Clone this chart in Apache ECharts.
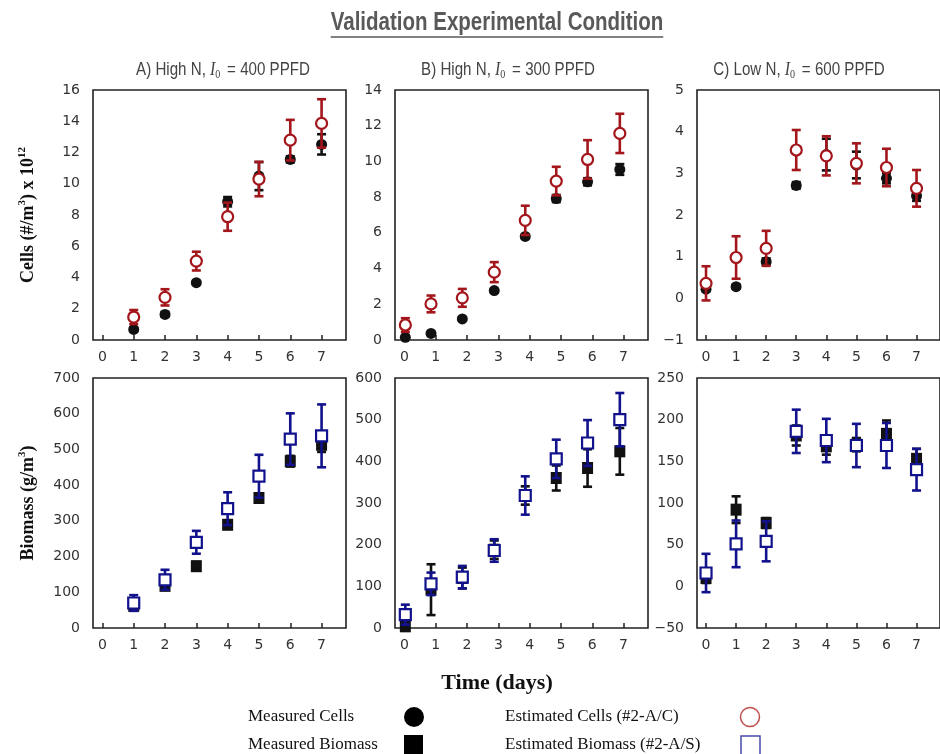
<!DOCTYPE html>
<html>
<head>
<meta charset="utf-8">
<title>Validation Experimental Condition</title>
<script src="https://cdn.jsdelivr.net/npm/echarts@6/dist/echarts.min.js"></script>
<style>
  html, body { margin: 0; padding: 0; background: #fff; }
  #chart { width: 940px; height: 754px; }
</style>
</head>
<body>
<div id="chart"></div>
<script>
// ---- Data -------------------------------------------------------------
const dayTicks = [0, 1, 2, 3, 4, 5, 6, 7];

// A) High N, I0 = 400 PPFD
const daysA = [1, 2, 3, 4, 5, 6, 7];
const cellsMeasA = [0.68, 1.64, 3.67, 8.85, 10.49, 11.56, 12.52];
const cellsMeasErrA = [0.1, 0.15, 0.1, 0.3, 0.9, 0.2, 0.65];
const cellsEstA = [1.47, 2.73, 5.05, 7.89, 10.3, 12.79, 13.86];
const cellsEstErrA = [0.45, 0.52, 0.6, 0.9, 1.1, 1.3, 1.55];
const bioMeasA = [62, 118, 173, 289, 364, 467, 513];
const bioMeasErrA = [8, 10, 12, 10, 12, 15, 20];
const bioEstA = [70, 135, 240, 334, 425, 529, 538];
const bioEstErrA = [22, 28, 32, 46, 60, 72, 88];

// B) High N, I0 = 300 PPFD
const daysB = [0.03, 0.85, 1.85, 2.87, 3.86, 4.85, 5.85, 6.88];
const cellsMeasB = [0.15, 0.37, 1.18, 2.77, 5.8, 7.92, 8.86, 9.55];
const cellsMeasErrB = [0.05, 0.05, 0.08, 0.1, 0.1, 0.2, 0.2, 0.3];
const cellsEstB = [0.84, 2.02, 2.36, 3.8, 6.7, 8.9, 10.11, 11.57];
const cellsEstErrB = [0.38, 0.47, 0.5, 0.56, 0.82, 0.8, 1.08, 1.1];
const bioMeasB = [4, 92, 120, 188, 318, 360, 384, 424];
const bioMeasErrB = [5, 61, 25, 22, 22, 30, 45, 56];
const bioEstB = [32, 106, 122, 186, 318, 406, 444, 500];
const bioEstErrB = [24, 27, 27, 27, 46, 46, 55, 64];

// C) Low N, I0 = 600 PPFD
const daysC = [0, 1, 2, 3, 4, 5, 6, 7];
const cellsMeasC = [0.22, 0.28, 0.88, 2.71, 3.45, 3.2, 2.88, 2.46];
const cellsMeasErrC = [0.05, 0.05, 0.08, 0.08, 0.38, 0.32, 0.12, 0.12];
const cellsEstC = [0.36, 0.98, 1.2, 3.56, 3.42, 3.24, 3.14, 2.64];
const cellsEstErrC = [0.41, 0.51, 0.42, 0.48, 0.47, 0.48, 0.45, 0.44];
const bioMeasC = [10, 92, 76, 181, 168, 170, 183, 153];
const bioMeasErrC = [6, 16, 6, 12, 10, 8, 16, 12];
const bioEstC = [16, 51, 54, 186, 175, 169, 169, 140];
const bioEstErrC = [23, 28, 24, 26, 26, 26, 27, 25];

// Axis ranges [min, max, interval] for the cells row and the biomass row
const cellsAxes = [[0, 16, 2], [0, 14, 2], [-1, 5, 1]];
const bioAxes = [[0, 700, 100], [0, 600, 100], [-50, 250, 50]];

const panelTitles = [
  ['A) High N, ', '400 PPFD'],
  ['B) High N, ', '300 PPFD'],
  ['C) Low N, ', '600 PPFD']
];
const legendLabels = ['Measured Cells', 'Measured Biomass', 'Estimated Cells (#2-A/C)', 'Estimated Biomass (#2-A/S)'];
const mainTitle = 'Validation Experimental Condition';
const xTitle = 'Time (days)';

// ---- Styling ----------------------------------------------------------
const RED = '#a3161b';
const BLUE = '#12128c';
const BLACK = '#111111';
const AXIS = '#222222';
const SANS = '"Liberation Sans", Arial, sans-serif';
const SERIF = '"Liberation Serif", "Times New Roman", serif';
const TICK_FONT = '"DejaVu Sans", sans-serif';

const colLeft = [93, 395, 697];
const rowTop = [90, 378];
const PW = 253, PH = 250;

const chart = echarts.init(document.getElementById('chart'), null, { renderer: 'canvas' });

const grids = [], xAxes = [], yAxes = [], series = [];

function zip(xs, ys) { return xs.map((x, i) => [x, ys[i]]); }
function zipErr(xs, ys, es) { return xs.map((x, i) => [x, ys[i] - es[i], ys[i] + es[i]]); }

function errorBars(color) {
  return function (params, api) {
    const x = api.value(0);
    const lo = api.coord([x, api.value(1)]);
    const hi = api.coord([x, api.value(2)]);
    const cap = 4.5;
    const style = { stroke: color, lineWidth: 2.6 };
    return {
      type: 'group',
      children: [
        { type: 'line', shape: { x1: lo[0], y1: lo[1], x2: hi[0], y2: hi[1] }, style },
        { type: 'line', shape: { x1: lo[0] - cap, y1: lo[1], x2: lo[0] + cap, y2: lo[1] }, style },
        { type: 'line', shape: { x1: hi[0] - cap, y1: hi[1], x2: hi[0] + cap, y2: hi[1] }, style }
      ]
    };
  };
}

function addPanel(idx, col, row, range, xs, meas, measErr, est, estErr, isCells, yName) {
  grids.push({
    left: colLeft[col], top: rowTop[row], width: PW, height: PH,
    show: true, borderColor: AXIS, borderWidth: 1.6, backgroundColor: 'transparent'
  });
  xAxes.push({
    gridIndex: idx, type: 'value', min: -0.3, max: 7.78,
    splitLine: { show: false },
    axisLine: { show: false, onZero: false },
    axisTick: { show: true, inside: true, length: 5, customValues: dayTicks, lineStyle: { color: AXIS, width: 1.5 } },
    axisLabel: { show: true, customValues: dayTicks, margin: 10, color: '#333', fontSize: 14, fontFamily: TICK_FONT }
  });
  const y = {
    gridIndex: idx, type: 'value', min: range[0], max: range[1], interval: range[2],
    splitLine: { show: false },
    axisLine: { show: false, onZero: false },
    axisTick: { show: false },
    axisLabel: {
      margin: 13, color: '#333', fontSize: 14, fontFamily: TICK_FONT,
      formatter: v => String(v).replace('-', '\u2212')
    }
  };
  if (yName) {
    Object.assign(y, {
      name: yName, nameLocation: 'middle', nameGap: 54,
      nameTextStyle: {
        fontFamily: SERIF, fontWeight: 'bold', fontSize: 18, color: '#111', lineHeight: 22,
        rich: { sup: { fontFamily: SERIF, fontWeight: 'bold', fontSize: 11, color: '#111', verticalAlign: 'top', lineHeight: 22, padding: [0, 0, 8, 0] } }
      }
    });
  }
  yAxes.push(y);

  const sym = isCells ? 'circle' : 'rect';
  const estColor = isCells ? RED : BLUE;
  series.push({
    type: 'custom', xAxisIndex: idx, yAxisIndex: idx, z: 2,
    renderItem: errorBars(BLACK), data: zipErr(xs, meas, measErr), silent: true
  });
  series.push({
    type: 'scatter', xAxisIndex: idx, yAxisIndex: idx, z: 3,
    name: isCells ? legendLabels[0] : legendLabels[1],
    symbol: sym, symbolSize: isCells ? 11 : [11, 12],
    itemStyle: { color: BLACK, opacity: 1 },
    data: zip(xs, meas), silent: true
  });
  series.push({
    type: 'custom', xAxisIndex: idx, yAxisIndex: idx, z: 4,
    renderItem: errorBars(estColor), data: zipErr(xs, est, estErr), silent: true
  });
  series.push({
    type: 'scatter', xAxisIndex: idx, yAxisIndex: idx, z: 5,
    name: isCells ? legendLabels[2] : legendLabels[3],
    symbol: sym, symbolSize: 11,
    itemStyle: { color: '#ffffff', borderColor: estColor, borderWidth: 2.2, opacity: 1 },
    data: zip(xs, est), silent: true
  });
}

addPanel(0, 0, 0, cellsAxes[0], daysA, cellsMeasA, cellsMeasErrA, cellsEstA, cellsEstErrA, true,
  'Cells (#/m{sup|3}) x 10{sup|12}');
addPanel(1, 1, 0, cellsAxes[1], daysB, cellsMeasB, cellsMeasErrB, cellsEstB, cellsEstErrB, true);
addPanel(2, 2, 0, cellsAxes[2], daysC, cellsMeasC, cellsMeasErrC, cellsEstC, cellsEstErrC, true);
addPanel(3, 0, 1, bioAxes[0], daysA, bioMeasA, bioMeasErrA, bioEstA, bioEstErrA, false,
  'Biomass (g/m{sup|3})');
addPanel(4, 1, 1, bioAxes[1], daysB, bioMeasB, bioMeasErrB, bioEstB, bioEstErrB, false);
addPanel(5, 2, 1, bioAxes[2], daysC, bioMeasC, bioMeasErrC, bioEstC, bioEstErrC, false);

// ---- Titles, x-axis caption and key ------------------------------------
// Headings use a condensed look: a regular sans face squeezed horizontally.
const titleFont = 'bold 25px ' + SANS;
const titleSqueeze = 0.82;
const measureCtx = document.createElement('canvas').getContext('2d');
measureCtx.font = titleFont;
const titleW = measureCtx.measureText(mainTitle).width * titleSqueeze;
const titleCx = 497;

const subCenters = [223, 508, 799];
const graphics = [
  {
    type: 'text', x: titleCx, y: 23, scaleX: titleSqueeze,
    style: { text: mainTitle, font: titleFont, fill: '#595959', align: 'center', verticalAlign: 'middle' }
  },
  {
    type: 'line', shape: { x1: titleCx - titleW / 2, y1: 37, x2: titleCx + titleW / 2, y2: 37 },
    style: { stroke: '#595959', lineWidth: 1.6 }
  },
  {
    type: 'text', x: 497, y: 683,
    style: { text: xTitle, font: 'bold 22px ' + SERIF, fill: '#111', align: 'center', verticalAlign: 'middle' }
  }
];

panelTitles.forEach((t, i) => {
  graphics.push({
    type: 'text', x: subCenters[i], y: 70, scaleX: 0.84,
    style: {
      text: t[0] + '{i|I}{s|0} = ' + t[1],
      align: 'center', verticalAlign: 'middle',
      fontFamily: SANS, fontSize: 18, fill: '#444', lineHeight: 22,
      rich: {
        i: { fontFamily: SERIF, fontStyle: 'italic', fontSize: 19, fill: '#444', lineHeight: 22 },
        s: { fontFamily: SERIF, fontSize: 12, fill: '#444', verticalAlign: 'bottom', lineHeight: 22, padding: [8, 3, 0, 0] }
      }
    }
  });
});

const keyFont = '17px ' + SERIF;
const keyRows = [717, 745];
graphics.push(
  { type: 'text', x: 248, y: keyRows[0], style: { text: legendLabels[0], font: keyFont, fill: '#111', verticalAlign: 'middle' } },
  { type: 'circle', shape: { cx: 414, cy: keyRows[0], r: 10 }, style: { fill: '#000' } },
  { type: 'text', x: 248, y: keyRows[1], style: { text: legendLabels[1], font: keyFont, fill: '#111', verticalAlign: 'middle' } },
  { type: 'rect', shape: { x: 404, y: keyRows[1] - 10, width: 19, height: 22 }, style: { fill: '#000' } },
  { type: 'text', x: 505, y: keyRows[0], style: { text: legendLabels[2], font: keyFont, fill: '#111', verticalAlign: 'middle' } },
  { type: 'circle', shape: { cx: 750, cy: keyRows[0], r: 9.5 }, style: { fill: 'none', stroke: '#c0504d', lineWidth: 1.5 } },
  { type: 'text', x: 505, y: keyRows[1], style: { text: legendLabels[3], font: keyFont, fill: '#111', verticalAlign: 'middle' } },
  { type: 'rect', shape: { x: 741, y: keyRows[1] - 9, width: 19, height: 19 }, style: { fill: 'none', stroke: '#4a4aa8', lineWidth: 1.5 } }
);

chart.setOption({
  animation: false,
  backgroundColor: '#ffffff',
  grid: grids,
  xAxis: xAxes,
  yAxis: yAxes,
  series: series,
  graphic: graphics
});
</script>
</body>
</html>
